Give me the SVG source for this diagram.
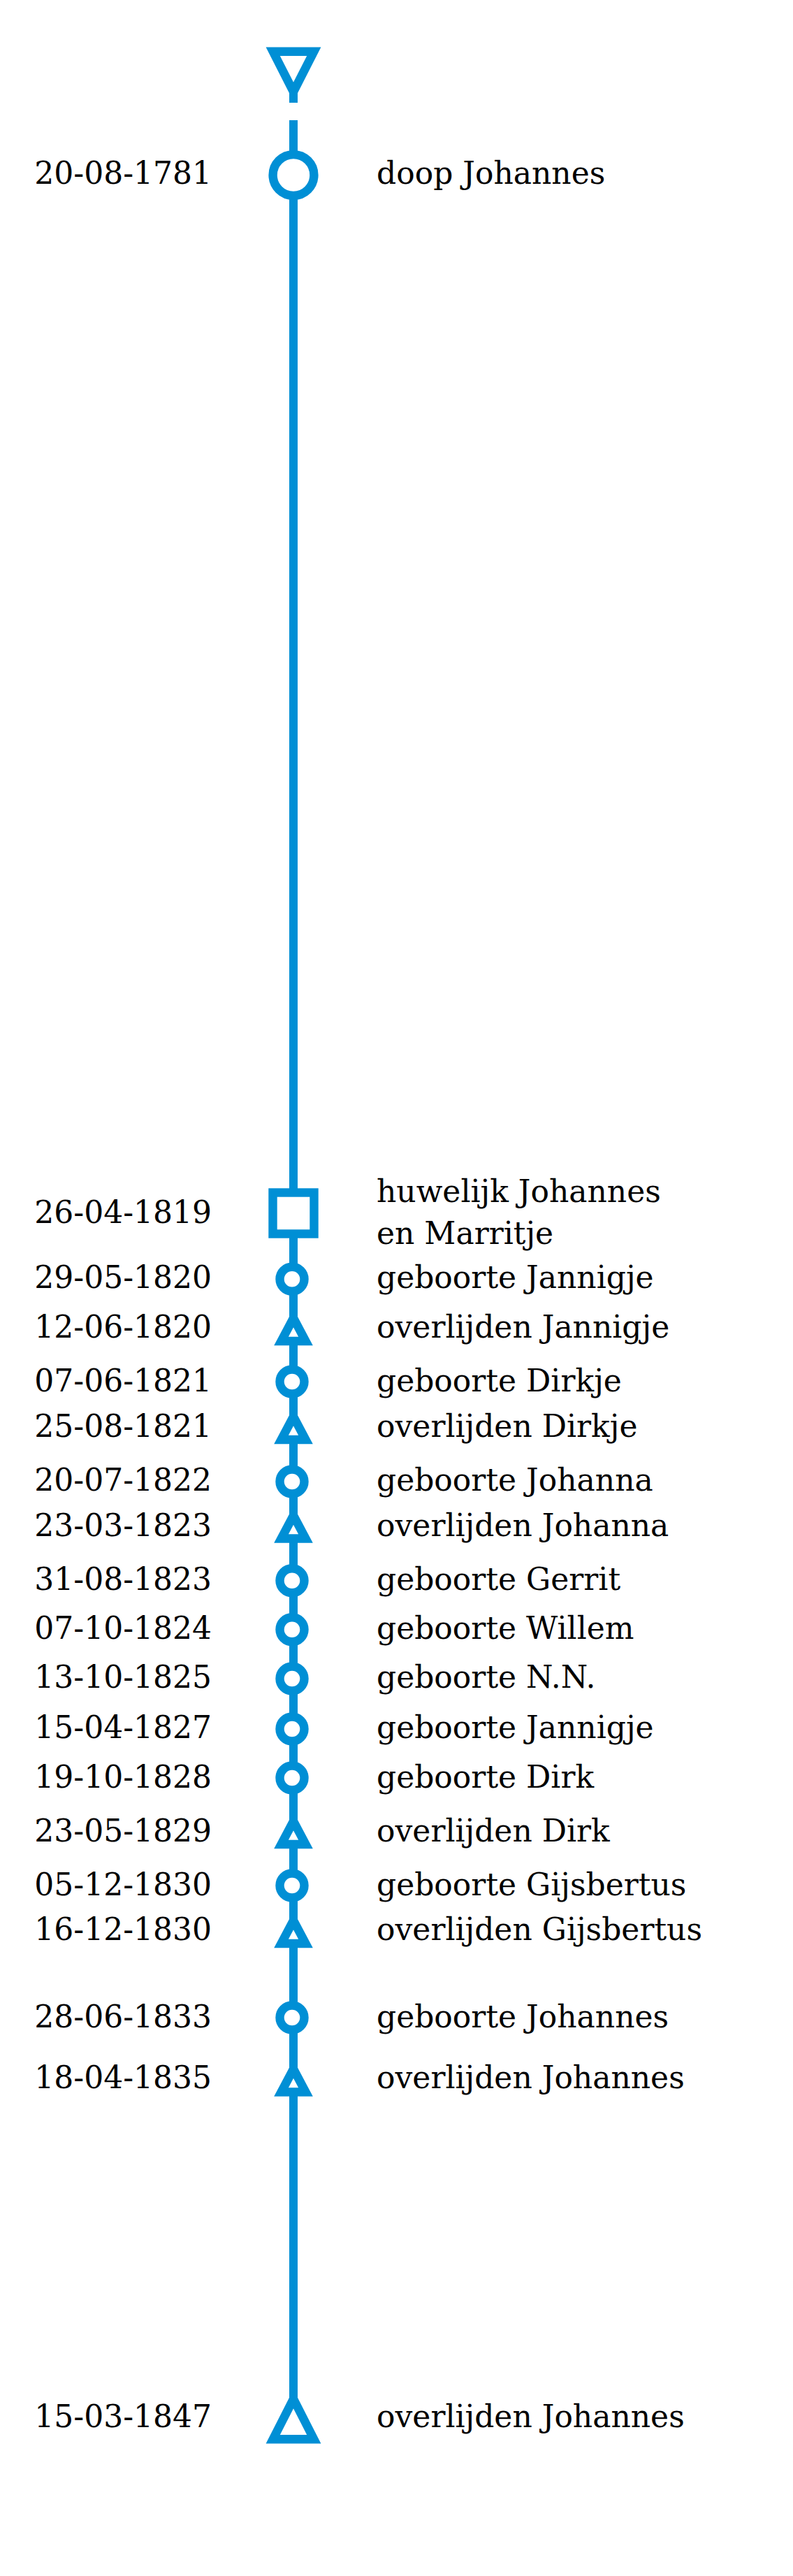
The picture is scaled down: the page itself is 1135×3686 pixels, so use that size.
<svg xmlns="http://www.w3.org/2000/svg" width="1135" height="3686" viewBox="0 0 1135 3686">
<style>
.m{fill:#fff;stroke:#008fd5;stroke-width:12.4;stroke-linejoin:miter}
.ln{stroke:#008fd5;stroke-width:12;fill:none}
.d{font-family:"DejaVu Serif",serif;font-size:44px;fill:#000;text-anchor:end}
.t{font-family:"DejaVu Serif",serif;font-size:44px;fill:#000}
</style>
<defs>
<circle id="sc" r="17.5" class="m"/>
<polygon id="st" points="-17.5,0 17.5,0 0,-33" class="m"/>
</defs>
<rect width="1135" height="3686" fill="#fff"/>
<g id="connectors">
<line class="ln" x1="420" y1="128" x2="420" y2="147"/>
<line class="ln" x1="420" y1="172" x2="420" y2="3432"/>
</g>
<g id="start"><polygon class="m" points="390.7,73.7 449.3,73.7 420,131.4"/></g>
<g id="e1781"><circle class="m" cx="420" cy="250.5" r="29.4"/><text class="d" x="303" y="263">20-08-1781</text><text class="t" x="539" y="263">doop Johannes</text></g>
<g id="e1819"><rect class="m" x="390.5" y="1706.5" width="59" height="59"/><text class="d" x="303" y="1750">26-04-1819</text><text class="t" x="539" y="1719.5">huwelijk Johannes</text><text class="t" x="539" y="1780">en Marritje</text></g>
<g id="e1820a"><use href="#sc" x="418" y="1830.3"/><text class="d" x="303" y="1842.7">29-05-1820</text><text class="t" x="539" y="1842.7">geboorte Jannigje</text></g>
<g id="e1820b"><use href="#st" x="420" y="1919"/><text class="d" x="303" y="1914">12-06-1820</text><text class="t" x="539" y="1914">overlijden Jannigje</text></g>
<g id="e1821a"><use href="#sc" x="418" y="1977"/><text class="d" x="303" y="1990.7">07-06-1821</text><text class="t" x="539" y="1990.7">geboorte Dirkje</text></g>
<g id="e1821b"><use href="#st" x="420" y="2060"/><text class="d" x="303" y="2056">25-08-1821</text><text class="t" x="539" y="2056">overlijden Dirkje</text></g>
<g id="e1822"><use href="#sc" x="418" y="2120"/><text class="d" x="303" y="2133">20-07-1822</text><text class="t" x="539" y="2133">geboorte Johanna</text></g>
<g id="e1823a"><use href="#st" x="420" y="2201.5"/><text class="d" x="303" y="2198">23-03-1823</text><text class="t" x="539" y="2198">overlijden Johanna</text></g>
<g id="e1823b"><use href="#sc" x="418" y="2261.7"/><text class="d" x="303" y="2275">31-08-1823</text><text class="t" x="539" y="2275">geboorte Gerrit</text></g>
<g id="e1824"><use href="#sc" x="418" y="2331.7"/><text class="d" x="303" y="2345">07-10-1824</text><text class="t" x="539" y="2345">geboorte Willem</text></g>
<g id="e1825"><use href="#sc" x="418" y="2402"/><text class="d" x="303" y="2415">13-10-1825</text><text class="t" x="539" y="2415">geboorte N.N.</text></g>
<g id="e1827"><use href="#sc" x="418" y="2474"/><text class="d" x="303" y="2487">15-04-1827</text><text class="t" x="539" y="2487">geboorte Jannigje</text></g>
<g id="e1828"><use href="#sc" x="418" y="2544"/><text class="d" x="303" y="2558">19-10-1828</text><text class="t" x="539" y="2558">geboorte Dirk</text></g>
<g id="e1829"><use href="#st" x="420" y="2639"/><text class="d" x="303" y="2635">23-05-1829</text><text class="t" x="539" y="2635">overlijden Dirk</text></g>
<g id="e1830a"><use href="#sc" x="418" y="2698"/><text class="d" x="303" y="2711.7">05-12-1830</text><text class="t" x="539" y="2711.7">geboorte Gijsbertus</text></g>
<g id="e1830b"><use href="#st" x="420" y="2781"/><text class="d" x="303" y="2776">16-12-1830</text><text class="t" x="539" y="2776">overlijden Gijsbertus</text></g>
<g id="e1833"><use href="#sc" x="418" y="2887"/><text class="d" x="303" y="2900.7">28-06-1833</text><text class="t" x="539" y="2900.7">geboorte Johannes</text></g>
<g id="e1835"><use href="#st" x="420" y="2993.5"/><text class="d" x="303" y="2988">18-04-1835</text><text class="t" x="539" y="2988">overlijden Johannes</text></g>
<g id="e1847"><polygon class="m" points="390.7,3490.3 449.3,3490.3 420,3432.6"/><text class="d" x="303" y="3473">15-03-1847</text><text class="t" x="539" y="3473">overlijden Johannes</text></g>
</svg>
